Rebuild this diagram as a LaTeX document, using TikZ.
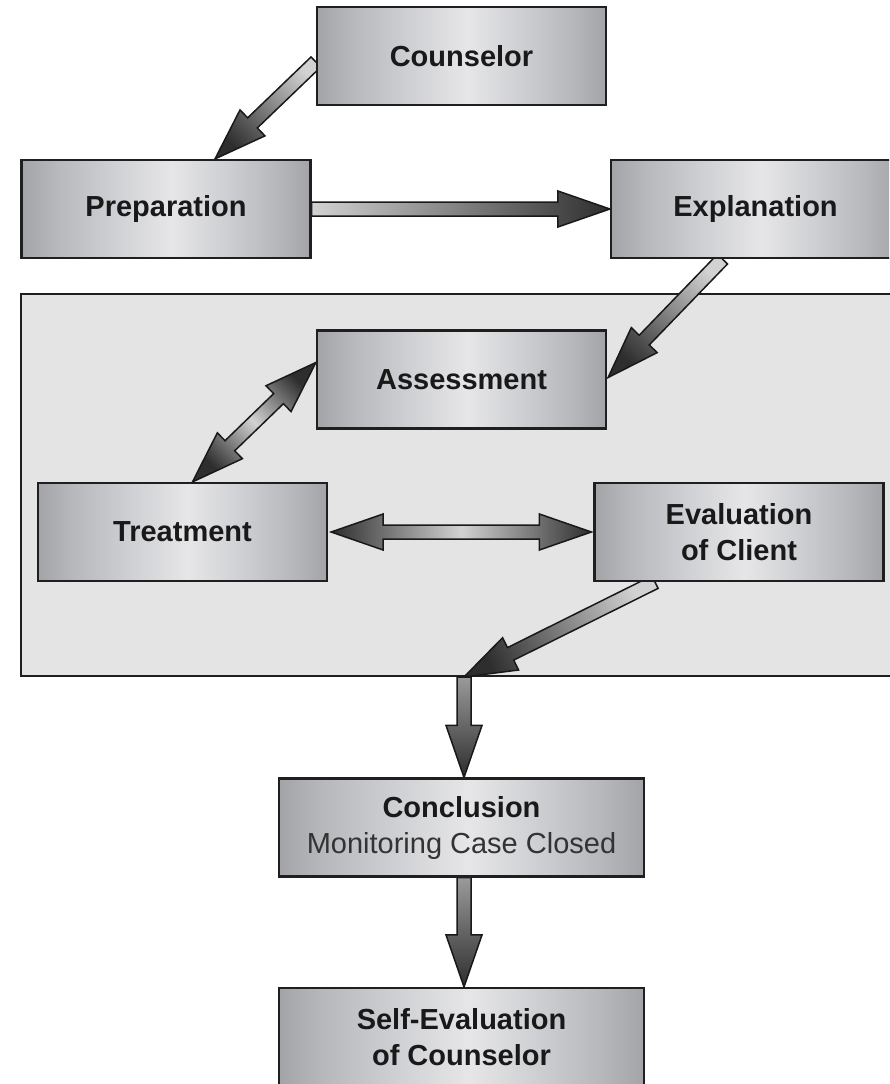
\documentclass[tikz,border=0pt]{standalone}
\usepackage{fontspec}
\setmainfont{Liberation Sans}
\usetikzlibrary{calc}

% colours
\definecolor{boxedge}{HTML}{A3A4A7}
\definecolor{boxmidA}{HTML}{B7B8BB}
\definecolor{boxmidB}{HTML}{CFD0D3}
\definecolor{boxlight}{HTML}{E6E6E8}
\definecolor{panelgray}{HTML}{E4E4E4}
\definecolor{arrowlight}{HTML}{D2D2D2}
\definecolor{arrowmid}{HTML}{9A9A9A}
\definecolor{arrowdark}{HTML}{2E2E2E}
\definecolor{subtext}{HTML}{333333}

% brushed-metal look of the step boxes (gradient lives in 25bp..75bp)
\pgfdeclarehorizontalshading{steelbox}{100bp}{%
  color(0bp)=(boxedge); color(25bp)=(boxedge); color(31bp)=(boxmidA);
  color(41bp)=(boxmidB); color(51bp)=(boxlight); color(60bp)=(boxmidB);
  color(69bp)=(boxmidA); color(75bp)=(boxedge); color(100bp)=(boxedge)}

\pgfdeclarelayer{panellayer}
\pgfdeclarelayer{arrowlayer}
\pgfsetlayers{panellayer,arrowlayer,main}

% fat outlined arrow from coordinate #1 to coordinate #2,
% shaded from #3 (tail) to #4 (head)
\newcommand\fatarrow[4]{%
  \pgfpointdiff{\pgfpointanchor{#1}{center}}{\pgfpointanchor{#2}{center}}%
  \pgfgetlastxy{\fadx}{\fady}%
  \pgfmathsetmacro\fashang{atan2(\fady,\fadx)-90}%
  \coordinate (fa-b) at ($(#2)!52pt!(#1)$);
  \shadedraw[fatarrow, bottom color=#3, top color=#4, shading angle=\fashang]
    ($(#1)!7pt!-90:(#2)$) -- ($(fa-b)!7pt!-90:(#2)$) -- ($(fa-b)!18pt!-90:(#2)$)
    -- (#2) -- ($(fa-b)!18pt!90:(#2)$) -- ($(fa-b)!7pt!90:(#2)$)
    -- ($(#1)!7pt!90:(#2)$) -- cycle;
}
% fat outlined arrow with heads at both ends, #3 at the ends, #4 in the middle
\newcommand\fatdarrow[4]{%
  \pgfpointdiff{\pgfpointanchor{#1}{center}}{\pgfpointanchor{#2}{center}}%
  \pgfgetlastxy{\fadx}{\fady}%
  \pgfmathsetmacro\fashang{atan2(\fady,\fadx)-90}%
  \coordinate (fa-a) at ($(#1)!52pt!(#2)$);
  \coordinate (fa-b) at ($(#2)!52pt!(#1)$);
  \shadedraw[fatarrow, bottom color=#3, top color=#3, middle color=#4, shading angle=\fashang]
    (#1) -- ($(fa-a)!18pt!-90:(#2)$) -- ($(fa-a)!7pt!-90:(#2)$)
    -- ($(fa-b)!7pt!-90:(#2)$) -- ($(fa-b)!18pt!-90:(#2)$)
    -- (#2) -- ($(fa-b)!18pt!90:(#2)$) -- ($(fa-b)!7pt!90:(#2)$)
    -- ($(fa-a)!7pt!90:(#2)$) -- ($(fa-a)!18pt!90:(#2)$) -- cycle;
}

\begin{document}
\begin{tikzpicture}[x=1pt,y=1pt,
  stepbox/.style={draw=black!88, line width=2.2pt, shading=steelbox,
    minimum width=289pt, minimum height=98pt, inner sep=0pt, align=center,
    font=\fontsize{29}{36}\selectfont\bfseries, text=black!90},
  widebox/.style={stepbox, minimum width=365pt},
  panelbox/.style={draw=black!88, line width=2pt, fill=panelgray,
    minimum width=880pt, minimum height=382pt, inner sep=0pt, anchor=north west},
  fatarrow/.style={draw=black!90, line width=1.5pt, line join=miter}]

\useasboundingbox (0,0) rectangle (889,-1084);
\clip (0,0) rectangle (889,-1084);

\begin{pgfonlayer}{panellayer}
  \node[panelbox] (panel) at (20,-293) {};
\end{pgfonlayer}

% process steps
\node[stepbox] (couns)  at (461.5,-56)   {Counselor};
\node[stepbox] (prep)   at (166,-209)    {Preparation};
\node[stepbox] (expl)   at (755.5,-209)  {Explanation};
\node[stepbox] (assess) at (461.5,-379.5){Assessment};
\node[stepbox] (treat)  at (182.5,-532)  {Treatment};
\node[stepbox] (evalc)  at (739,-532)    {Evaluation\\of Client};
\node[widebox] (concl)  at (461.5,-827.5)
  {Conclusion\\{\mdseries\color{subtext}Monitoring Case Closed}};
\node[widebox] (selfev) at (461.5,-1037) {Self-Evaluation\\of Counselor};

% arrow end points on the box borders
\coordinate (a1s) at ($(couns.west)+(0,-6)$);
\coordinate (a1e) at ($(prep.north)+(49,0)$);
\coordinate (a2s) at (prep.east);
\coordinate (a2e) at (expl.west);
\coordinate (a3s) at ($(expl.south)+(-33,0)$);
\coordinate (a3e) at ($(assess.east)+(1,2)$);
\coordinate (a4s) at ($(treat.north)+(10,0)$);
\coordinate (a4e) at ($(assess.west)+(0,17)$);
\coordinate (a5s) at ($(treat.east)+(3,0)$);
\coordinate (a5e) at ($(evalc.west)+(-2,0)$);
\coordinate (a6s) at ($(evalc.south)+(-84,0)$);
\coordinate (merge) at ($(panel.south west)+(444,0)$);
\coordinate (a7e) at (merge |- concl.north);
\coordinate (a8s) at (merge |- concl.south);
\coordinate (a8e) at (merge |- selfev.north);

\begin{pgfonlayer}{arrowlayer}
  \fatarrow{a1s}{a1e}{arrowlight}{arrowdark}
  \fatarrow{a2s}{a2e}{arrowlight}{arrowdark}
  \fatarrow{a3s}{a3e}{arrowlight}{arrowdark}
  \fatdarrow{a4s}{a4e}{arrowdark}{arrowlight}
  \fatdarrow{a5s}{a5e}{arrowdark}{arrowlight}
  \fatarrow{a6s}{merge}{arrowlight}{arrowdark}
  \fatarrow{merge}{a7e}{arrowmid}{arrowdark}
  \fatarrow{a8s}{a8e}{arrowmid}{arrowdark}
\end{pgfonlayer}
\end{tikzpicture}
\end{document}
